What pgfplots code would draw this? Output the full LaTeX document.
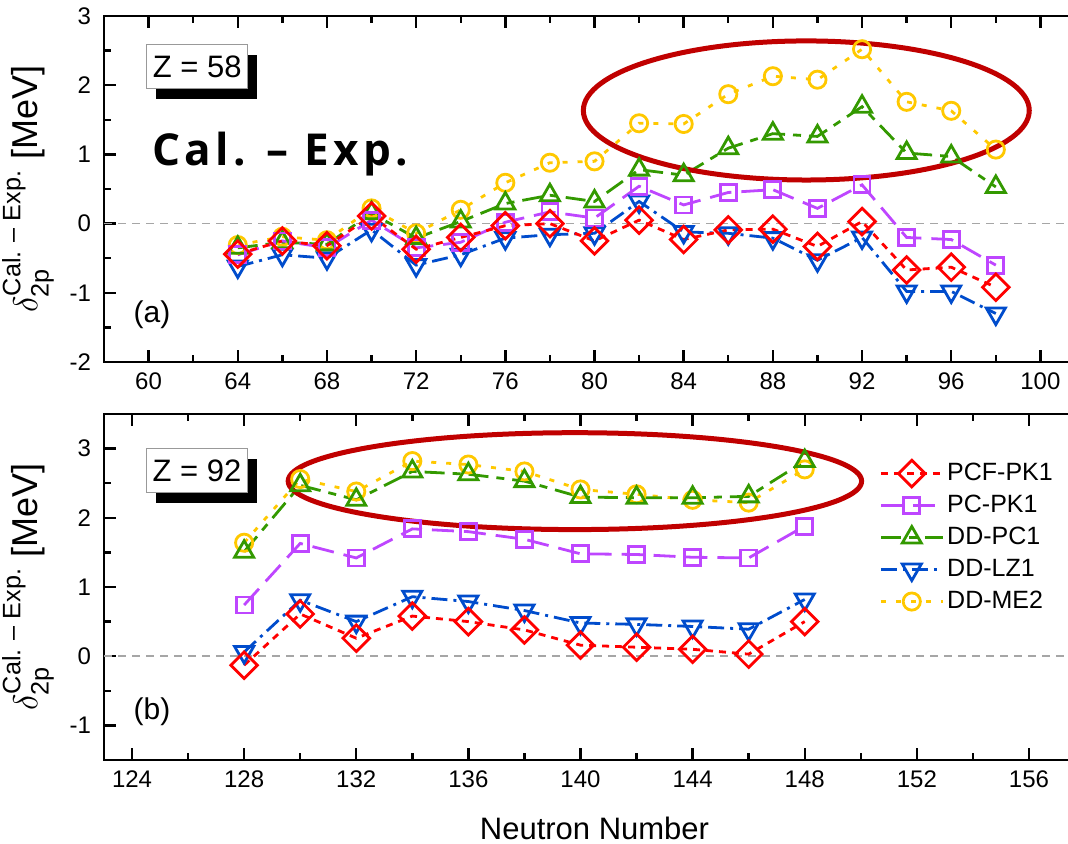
\documentclass[border=0pt]{standalone}
\usepackage{pgfplots}
\pgfplotsset{compat=1.18}
\usepackage{pgfplotstable}
\usepackage{amsmath}
\usepackage{fontspec}
\setmainfont{Liberation Sans}
\newfontfamily\calfont[LetterSpace=10]{Open Sans}
\usetikzlibrary{shadows}
\definecolor{cred}{RGB}{255,0,0}
\definecolor{cpurple}{RGB}{190,70,255}
\definecolor{cgreen}{RGB}{51,153,0}
\definecolor{cblue}{RGB}{0,76,204}
\definecolor{cyellow}{RGB}{255,200,0}
\definecolor{cellipse}{RGB}{192,0,0}

\pgfplotstableread{
x  pcf   pc    pcone lz    me
64 -0.44 -0.45 -0.35 -0.62 -0.31
66 -0.25 -0.25 -0.27 -0.45 -0.19
68 -0.32 -0.35 -0.30 -0.50 -0.24
70  0.11  0.05  0.15 -0.09  0.22
72 -0.37 -0.35 -0.21 -0.60 -0.14
74 -0.20 -0.27  0.03 -0.45  0.20
76 -0.03  0.02  0.29 -0.21  0.59
78  0.00  0.17  0.41 -0.16  0.88
80 -0.25  0.08  0.32 -0.14  0.90
82  0.05  0.54  0.78  0.32  1.45
84 -0.23  0.27  0.70 -0.12  1.44
86 -0.09  0.45  1.09 -0.14  1.87
88 -0.08  0.49  1.30 -0.21  2.13
90 -0.33  0.22  1.26 -0.53  2.08
92  0.03  0.56  1.69 -0.20  2.52
94 -0.67 -0.20  1.02 -0.98  1.76
96 -0.63 -0.23  0.97 -0.98  1.63
98 -0.92 -0.60  0.53 -1.30  1.07
}\topdata

\pgfplotstableread{
x   pcf   pc   pcone lz   me
128 -0.13 0.74 1.51 0.06 1.64
130  0.61 1.63 2.47 0.81 2.56
132  0.26 1.42 2.26 0.50 2.38
134  0.58 1.84 2.67 0.86 2.82
136  0.50 1.80 2.63 0.79 2.77
138  0.38 1.69 2.53 0.66 2.67
140  0.16 1.48 2.30 0.48 2.41
142  0.13 1.47 2.29 0.46 2.34
144  0.10 1.43 2.29 0.43 2.26
146  0.03 1.42 2.31 0.39 2.22
148  0.50 1.88 2.82 0.82 2.70
}\botdata

\pgfplotsset{
  base/.style={
    scale only axis, width=490.5pt, height=173pt,
    axis line style={line width=1.2pt},
    every tick/.style={black, line width=1.2pt},
    major tick length=6pt, minor tick length=3.5pt,
    tick align=inside,
    minor x tick num=1, minor y tick num=1,
    /pgf/number format/assume math mode=true,
    tick label style={font=\fontsize{12}{14}\selectfont},
    xticklabel style={yshift=-2pt},
    yticklabel style={xshift=-3pt},
    every axis y label/.style={at={(axis description cs:-0.0775,0.5)}, rotate=90, anchor=center, font=\fontsize{18}{21}\selectfont},
    ylabel={$\delta_{\text{2p}}^{\text{Cal. – Exp.}}$ [MeV]},
  },
  pcfst/.style={cred, line width=1.4pt, dash pattern=on 3.5pt off 3pt, mark=square, mark size=4.7pt, mark options={solid, rotate=45, fill=white, line width=1.4pt}},
  pcst/.style={cpurple, line width=1.4pt, dash pattern=on 11pt off 5pt, mark=square, mark size=4pt, mark options={solid, fill=white, line width=1.4pt}},
  pconest/.style={cgreen, line width=1.4pt, dash pattern=on 10pt off 4pt on 4pt off 4pt, mark=triangle, mark size=5.5pt, mark options={solid, fill=white, line width=1.4pt}},
  lzst/.style={cblue, line width=1.4pt, dash pattern=on 8pt off 3pt on 1.5pt off 3pt, mark=triangle, mark size=5.5pt, mark options={solid, rotate=180, fill=white, line width=1.4pt}},
  mest/.style={cyellow, line width=1.4pt, dash pattern=on 2.5pt off 5pt, mark=o, mark size=4.3pt, mark options={solid, fill=white, line width=1.4pt}},
}

\begin{document}
\begin{tikzpicture}
\begin{axis}[base, name=top, at={(0,0)}, anchor=south west,
  xmin=58, xmax=102, ymin=-2, ymax=3,
  xtick={60,64,...,100}, ytick={-2,-1,0,1,2,3}]
\addplot[gray!70, line width=0.8pt, dash pattern=on 4pt off 3pt, forget plot] coordinates {(58,0) (102,0)};
\addplot[mest] table[x=x, y=me] {\topdata};
\addplot[lzst] table[x=x, y=lz] {\topdata};
\addplot[pconest] table[x=x, y=pcone] {\topdata};
\addplot[pcst] table[x=x, y=pc] {\topdata};
\addplot[pcfst] table[x=x, y=pcf] {\topdata};
\draw[cellipse, line width=2.5pt] (axis cs:89.5,1.635) ellipse [x radius=10.0, y radius=1.005];
\node[draw=gray!80, line width=0.6pt, fill=white, minimum width=50.5pt, minimum height=22pt, inner sep=0pt, font=\fontsize{15.5}{18}\selectfont, drop shadow={shadow xshift=4.5pt, shadow yshift=-5pt, fill=black, opacity=1}] at (axis cs:62.18,2.27) {Z = 58};
\node[anchor=base west, inner sep=0pt, font={\fontsize{22}{26}\selectfont\calfont\bfseries}] at (axis cs:60.14,0.847) {Cal. – Exp.};
\node[font=\fontsize{15}{18}\selectfont] at (axis cs:60.15,-1.31) {(a)};
\end{axis}

\begin{axis}[base, name=bot, at={(0,-26pt)}, anchor=north west,
  xmin=123, xmax=158, ymin=-1.5, ymax=3.5,
  xtick={124,128,...,156}, ytick={-1,0,1,2,3},
  xlabel={Neutron Number},
  xlabel style={font=\fontsize{15.5}{18}\selectfont, at={(axis description cs:0.5,0)}, anchor=center, yshift=-34pt},
  reverse legend,
  legend cell align=left,
  legend image code/.code={\draw[mark repeat=2,mark phase=2] plot coordinates {(0pt,0pt) (15.5pt,0pt) (31pt,0pt)};},
  legend style={draw=none, fill=none, at={(axis description cs:0.79,0.643)}, anchor=west, inner sep=0pt, row sep=2pt,
    font=\fontsize{12.5}{15}\selectfont, nodes={inner sep=1.5pt, text height=9pt, text depth=2pt}},
  ]
\addplot[gray!70, line width=0.8pt, dash pattern=on 4pt off 3pt, forget plot] coordinates {(123,0) (158,0)};
\addplot[mest] table[x=x, y=me] {\botdata};
\addlegendentry{DD-ME2}
\addplot[lzst] table[x=x, y=lz] {\botdata};
\addlegendentry{DD-LZ1}
\addplot[pconest] table[x=x, y=pcone] {\botdata};
\addlegendentry{DD-PC1}
\addplot[pcst] table[x=x, y=pc] {\botdata};
\addlegendentry{PC-PK1}
\addplot[pcfst] table[x=x, y=pcf] {\botdata};
\addlegendentry{PCF-PK1}
\draw[cellipse, line width=2.5pt] (axis cs:139.8,2.53) ellipse [x radius=10.23, y radius=0.70];
\node[draw=gray!80, line width=0.6pt, fill=white, minimum width=50.5pt, minimum height=22pt, inner sep=0pt, font=\fontsize{15.5}{18}\selectfont, drop shadow={shadow xshift=4.5pt, shadow yshift=-5pt, fill=black, opacity=1}] at (axis cs:126.32,2.68) {Z = 92};
\node[font=\fontsize{15}{18}\selectfont] at (axis cs:124.71,-0.80) {(b)};
\end{axis}
\pgfresetboundingbox
\useasboundingbox (-52pt,-240.5pt) rectangle (482pt,181pt);
\end{tikzpicture}
\end{document}
